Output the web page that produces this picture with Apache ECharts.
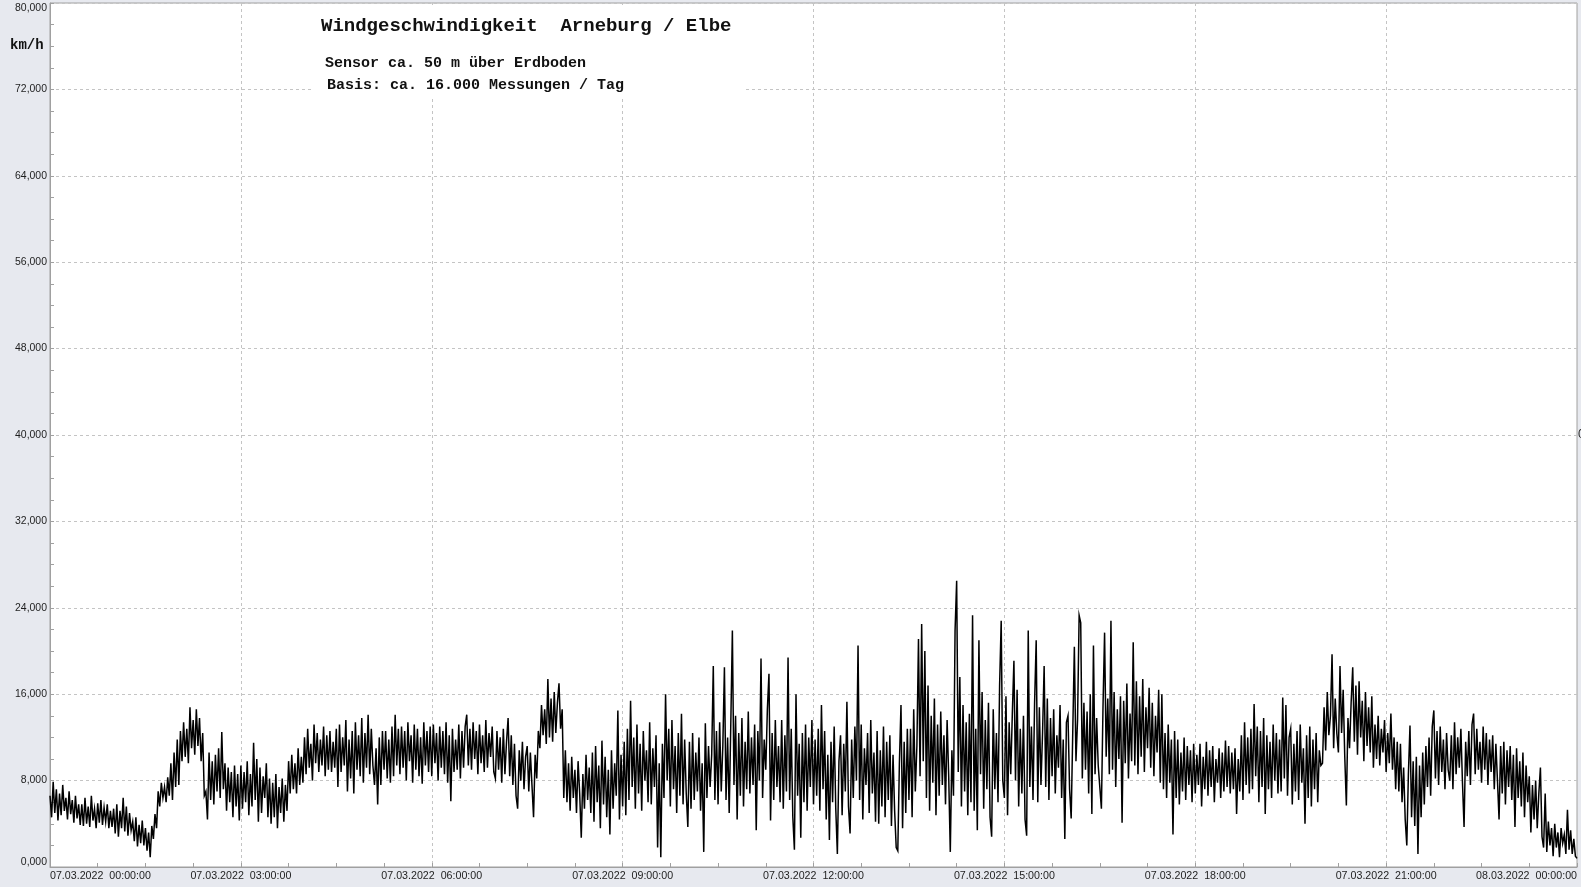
<!DOCTYPE html>
<html>
<head>
<meta charset="utf-8">
<script src="https://cdn.jsdelivr.net/npm/echarts@6/dist/echarts.min.js"></script>
<style>
html,body{margin:0;padding:0;background:#e7e9ef;}
#chart{width:1581px;height:887px;}
</style>
</head>
<body>
<div id="chart"></div>
<script>
// Wind speed (km/h), one reading every 1.5 minutes
const sampleMinutes = 1.5;
const speed_00_03 = [
6.6,4.6,7.9,5.0,7.2,4.3,6.8,4.8,7.6,5.2,6.4,4.4,7.0,4.9,6.2,4.1,6.6,4.5,5.8,3.9,
5.8,3.8,6.4,4.0,5.6,3.7,6.6,4.3,5.4,3.6,5.9,4.1,6.2,3.9,5.5,4.2,5.8,3.6,5.2,3.7,
5.4,3.1,5.8,2.8,5.2,3.6,6.4,3.3,5.6,2.9,5.0,3.4,4.2,2.4,4.6,1.9,3.9,2.2,4.3,2.0,
3.6,1.5,3.2,0.9,3.8,2.6,4.9,3.6,7.0,5.6,7.8,6.4,7.4,6.0,8.3,6.6,9.6,6.2,10.6,7.4,
11.8,7.6,12.6,9.8,13.4,10.2,12.8,9.6,14.8,11.0,13.6,10.4,14.6,11.2,13.8,9.8,12.4,6.6,7.0,4.4,
10.6,6.2,9.8,5.8,10.4,7.0,11.0,6.4,12.5,7.2,9.6,5.2,9.2,6.0,8.8,4.6,9.4,5.6,8.6,4.3];
const speed_03_06 = [
9.4,5.4,8.8,6.0,9.8,4.8,8.6,5.6,11.5,6.2,10.0,4.2,9.2,5.0,8.4,6.4,9.6,4.6,8.2,4.0,
7.8,4.6,8.6,3.6,7.4,5.0,8.2,4.2,7.6,5.2,9.8,6.8,10.4,7.2,9.6,6.8,11.0,7.6,10.2,7.8,
12.0,8.6,12.8,9.2,11.4,8.0,13.2,9.6,12.4,8.8,11.8,9.4,13.0,8.4,12.2,9.0,12.6,8.8,11.6,9.2,
12.8,7.4,13.2,8.8,12.0,9.4,13.6,7.0,11.8,8.2,12.6,6.8,13.4,9.0,12.2,8.4,13.8,7.8,12.4,9.2,
14.1,8.6,12.8,9.4,7.6,11.0,5.8,12.0,7.6,12.6,9.0,12.6,8.2,11.8,7.8,13.0,8.4,14.1,9.4,12.8,
8.6,13.0,9.2,12.6,8.0,13.4,9.8,12.2,7.8,13.2,9.0,12.8,8.4,12.0,7.7,13.4,9.4,12.6,8.8,13.0];
const speed_06_09 = [
8.4,13.2,9.6,12.4,8.0,13.0,9.2,12.6,8.6,13.4,7.8,12.2,6.1,12.8,8.8,11.8,9.0,13.2,8.2,12.6,
9.2,13.0,14.1,9.4,12.8,9.0,13.4,10.0,12.6,8.6,13.2,9.6,12.2,8.8,13.6,9.2,12.4,10.2,13.0,8.8,
8.2,12.6,9.0,12.0,7.8,12.8,8.6,11.6,13.8,8.4,12.2,7.6,11.4,6.6,5.4,10.8,8.0,11.6,7.2,10.2,
11.2,7.0,10.6,7.6,4.6,10.4,8.2,12.6,11.0,15.0,12.2,14.6,11.4,17.4,12.0,15.6,11.6,16.2,12.4,15.2,
17.0,12.8,14.6,6.4,10.8,6.0,9.6,5.2,10.2,6.4,9.0,5.0,9.8,6.8,2.7,8.6,5.4,10.4,6.2,9.2,
5.0,10.6,4.2,11.2,6.0,9.4,3.6,11.7,5.8,10.2,4.6,9.0,3.0,10.8,5.4,9.6,6.6,14.5,4.4,10.4];
const speed_09_12 = [
5.6,11.6,4.8,12.8,6.2,15.4,7.4,12.0,5.4,13.2,6.8,11.4,5.2,12.6,8.0,10.8,6.0,13.4,5.8,11.0,
7.4,12.2,1.8,9.6,0.9,11.4,6.4,16.0,8.0,12.8,5.6,13.6,7.2,11.2,5.0,12.4,6.6,14.2,5.8,11.8,
6.8,3.7,11.6,5.4,12.4,6.2,10.6,7.0,12.0,5.2,9.6,1.4,13.3,6.4,11.2,7.4,10.4,18.6,6.2,12.6,
5.8,13.4,7.0,11.2,18.5,6.2,12.0,5.0,13.2,21.9,7.6,14.0,4.4,12.4,6.6,13.8,5.6,11.6,7.2,14.4,
6.8,12.0,7.6,13.2,3.4,12.6,8.0,19.3,6.4,11.8,9.0,14.6,17.9,4.3,12.4,6.2,13.6,7.4,11.2,6.0,
13.6,5.4,12.2,7.0,19.4,6.2,12.8,4.6,1.6,16.0,6.6,11.4,2.7,12.4,6.0,13.2,5.2,12.0,7.4,13.6];
const speed_12_15 = [
5.8,11.8,6.6,12.8,5.2,15.0,7.2,12.6,4.4,10.4,2.5,11.6,6.0,13.0,5.4,1.2,9.8,12.2,4.8,11.4,
7.0,15.3,5.6,3.1,11.8,6.4,13.0,8.0,20.5,6.2,13.2,4.4,11.0,7.6,12.4,5.0,13.6,6.8,10.6,4.2,
12.6,4.0,10.8,5.6,13.0,4.6,11.6,6.2,12.2,3.8,10.4,5.2,1.8,1.5,9.6,15.0,3.6,11.6,5.0,12.8,
6.2,12.8,4.6,14.6,7.0,11.2,21.1,8.4,22.5,9.8,20.0,6.4,16.8,5.2,14.0,7.8,15.6,4.8,13.2,6.6,
14.4,7.6,12.2,5.8,13.6,8.4,1.4,10.8,6.6,21.9,26.5,8.8,17.6,5.6,15.0,7.0,13.4,4.8,14.2,6.0,
23.3,5.2,12.8,3.4,21.0,8.6,16.2,5.4,13.6,7.2,15.2,4.6,2.8,14.6,7.2,12.4,6.0,16.8,22.8,8.0];
const speed_15_18 = [
6.4,15.8,4.8,13.4,8.6,14.2,19.1,8.0,16.4,5.6,12.8,6.8,14.0,4.4,2.9,21.9,7.4,13.0,6.2,15.2,
21.0,6.0,14.8,7.6,12.4,18.6,7.4,15.6,6.2,13.8,8.4,14.6,6.8,12.2,9.2,15.0,6.4,11.8,2.6,13.4,
14.0,7.2,4.5,12.6,20.4,9.8,13.6,23.3,22.6,8.2,15.2,9.0,14.4,6.8,16.0,4.9,20.5,8.6,13.8,9.4,
9.4,5.4,14.8,21.7,10.2,15.6,8.6,22.8,9.0,16.2,7.4,14.6,10.0,15.8,4.1,15.4,9.6,17.0,8.2,14.2,
9.8,20.8,9.4,17.2,8.6,15.8,10.2,17.4,8.8,14.8,11.0,16.6,9.2,15.2,8.4,14.0,10.6,16.4,7.8,16.0,
7.2,12.4,6.4,13.2,7.8,11.8,3.0,12.6,6.4,11.8,5.8,10.6,7.0,12.0,6.2,11.2,7.6,10.8,6.0,11.4];
const speed_18_21 = [
6.8,10.4,7.6,11.4,5.6,10.2,7.2,11.6,6.6,10.8,7.4,11.2,6.0,10.0,7.8,11.0,6.4,10.6,7.0,11.7,
7.4,11.2,6.8,10.6,7.2,11.0,4.9,10.0,7.0,12.2,6.2,13.4,7.6,12.0,6.8,12.8,7.2,15.1,8.4,13.0,
6.0,12.6,7.4,13.8,4.9,12.2,7.2,11.6,6.4,13.2,8.0,12.4,6.8,11.8,7.0,15.7,8.2,15.0,6.6,12.0,
12.8,5.8,11.4,7.0,12.6,6.2,13.2,7.8,11.0,4.0,12.2,6.4,13.0,5.6,11.8,7.2,12.4,6.0,10.8,9.4,
9.6,14.8,10.8,16.2,12.2,14.0,19.7,11.0,15.6,12.4,10.6,18.6,12.4,16.4,10.2,5.7,13.8,11.0,15.2,18.5,
11.6,16.8,10.4,17.2,12.0,15.4,9.8,16.2,11.2,14.8,10.6,15.8,9.2,13.2,10.0,14.0,9.4,12.8,10.6,13.6];
const speed_21_24 = [
8.8,12.4,9.6,14.2,9.0,12.0,7.2,11.6,7.0,11.4,6.0,9.2,4.4,2.0,8.6,13.1,4.6,9.8,3.8,10.2,
1.2,9.4,4.6,10.6,5.8,11.2,7.4,12.0,6.6,13.0,14.5,8.2,12.6,7.6,13.0,8.8,11.8,7.2,12.4,9.0,
8.0,12.2,7.2,13.4,8.6,12.0,9.2,12.8,7.8,3.7,11.6,8.4,12.6,7.6,13.2,14.2,8.6,12.8,9.0,11.6,
7.8,13.0,9.0,12.4,7.6,11.8,8.8,12.2,7.2,11.4,8.0,4.4,11.2,6.8,11.6,5.8,10.8,7.4,11.2,6.2,
10.4,3.7,11.0,6.4,9.8,5.6,10.6,4.6,9.4,6.0,8.4,3.2,7.6,4.4,8.0,3.6,6.8,9.2,2.8,1.8,
6.8,1.4,4.2,2.0,3.6,1.0,4.0,1.8,3.2,0.9,3.6,2.2,3.0,1.2,5.3,1.6,3.4,1.2,2.6,1.0,
0.8];

const dayLabels = ['07.03.2022', '08.03.2022'];
const yTicks = [0, 8, 16, 24, 32, 40, 48, 56, 64, 72, 80];
const titleText = 'Windgeschwindigkeit  Arneburg / Elbe';
const subText1 = 'Sensor ca. 50 m \u00fcber Erdboden';
const subText2 = 'Basis: ca. 16.000 Messungen / Tag';
const unitText = 'km/h';

const allSpeeds = [].concat(speed_00_03, speed_03_06, speed_06_09, speed_09_12,
  speed_12_15, speed_15_18, speed_18_21, speed_21_24);
const seriesData = allSpeeds.map((v, i) => [i * sampleMinutes, v]);

const labelFont = "'Liberation Sans', Arial, sans-serif";
// fit the tick-label size to the narrow lettering of the reference
const mctx = document.createElement('canvas').getContext('2d');
mctx.font = "12px " + labelFont;
const xLabelSize = Math.max(9, Math.min(12, 12 * 101 / mctx.measureText('07.03.2022  00:00:00').width));
const yLabelSize = Math.max(9, Math.min(12, 12 * 32 / mctx.measureText('80,000').width));
const gray = '#a0a0a0';

function two(n){ return (n < 10 ? '0' : '') + n; }

const chart = echarts.init(document.getElementById('chart'), null, {renderer: 'canvas'});
chart.setOption({
  animation: false,
  backgroundColor: '#e7e9ef',
  grid: {left: 50, right: 4, top: 3, bottom: 20, show: true, borderColor: gray, borderWidth: 1, backgroundColor: '#ffffff'},
  xAxis: {
    type: 'value', min: 0, max: 1440, interval: 180,
    axisLine: {show: true, lineStyle: {color: gray}},
    axisTick: {show: true, inside: true, length: 4, lineStyle: {color: gray}},
    minorTick: {show: true, splitNumber: 4, length: 4, lineStyle: {color: gray}},
    splitLine: {show: true, lineStyle: {color: '#c4c4c4', type: [3, 3]}},
    axisLabel: {
      margin: 4, fontSize: xLabelSize, fontFamily: labelFont, color: '#1e1e1e',
      showMinLabel: true, showMaxLabel: true,
      alignMinLabel: 'left', alignMaxLabel: 'right',
      formatter: function (v) {
        const d = Math.floor(v / 1440);
        const h = Math.floor((v % 1440) / 60);
        return dayLabels[d] + '  ' + two(h) + ':00:00';
      }
    }
  },
  yAxis: {
    type: 'value', min: yTicks[0], max: yTicks[yTicks.length - 1], interval: yTicks[1] - yTicks[0],
    axisLine: {show: true, lineStyle: {color: gray}},
    axisTick: {show: true, inside: true, length: 4, lineStyle: {color: gray}},
    minorTick: {show: true, splitNumber: 4, length: 4, lineStyle: {color: gray}},
    splitLine: {show: true, lineStyle: {color: '#c4c4c4', type: [3, 3]}},
    axisLabel: {
      margin: 3, fontSize: yLabelSize, fontFamily: labelFont, color: '#1e1e1e',
      verticalAlignMinLabel: 'bottom', verticalAlignMaxLabel: 'top',
      formatter: function (v) { return v.toFixed(3).replace('.', ','); }
    }
  },
  series: [{
    type: 'line', data: seriesData, showSymbol: false, symbol: 'none',
    sampling: null, lineStyle: {color: '#000', width: 1.5, join: 'miter'}, z: 3
  }],
  graphic: [
    {type: 'rect', z: 100, shape: {x: 311, y: 5, width: 435, height: 91}, style: {fill: '#ffffff'}},
    {type: 'text', z: 101, style: {text: titleText, x: 321, y: 26, fontSize: 19, fontWeight: 'bold', fontFamily: "'Liberation Mono',monospace", fill: '#111', verticalAlign: 'middle'}},
    {type: 'text', z: 101, style: {text: subText1, x: 325, y: 63, fontSize: 15, fontWeight: 'bold', fontFamily: "'Liberation Mono',monospace", fill: '#111', verticalAlign: 'middle'}},
    {type: 'text', z: 101, style: {text: subText2, x: 327, y: 85, fontSize: 15, fontWeight: 'bold', fontFamily: "'Liberation Mono',monospace", fill: '#111', verticalAlign: 'middle'}},
    {type: 'text', z: 101, style: {text: unitText, x: 10, y: 45, fontSize: 14, fontWeight: 'bold', fontFamily: "'Liberation Mono',monospace", fill: '#111', verticalAlign: 'middle'}},
    {type: 'text', z: 101, style: {text: '0', x: 1578, y: 435, fontSize: 12, fontFamily: labelFont, fill: '#1e1e1e', verticalAlign: 'middle'}}
  ]
});
</script>
</body>
</html>
